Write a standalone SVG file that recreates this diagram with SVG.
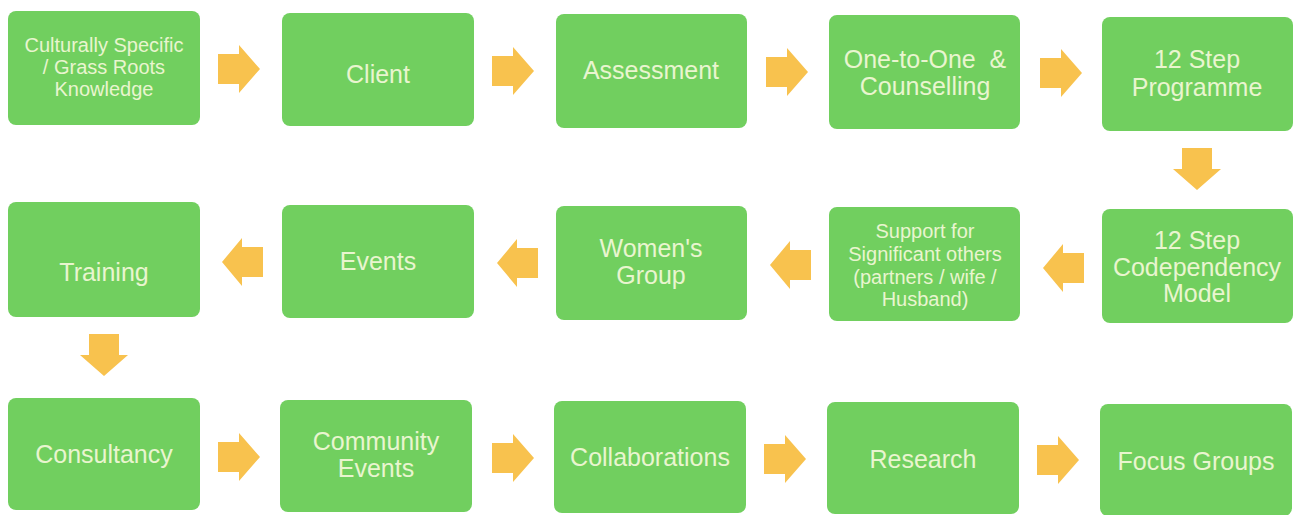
<svg xmlns="http://www.w3.org/2000/svg" width="1297" height="515" viewBox="0 0 1297 515">
<defs>
<style>
.box{fill:#71cf5f;}
.lbl{font-family:"Liberation Sans",Arial,sans-serif;font-size:25px;fill:#e9f5cf;text-anchor:middle;}
.sm{font-size:20px;}
.arr{fill:#f8c24e;}
</style>
<path id="ar" d="M0,-15 H21 V-24 L42,0 L21,24 V15 H0 Z"/>
<path id="al" d="M0,0 L20,-24 V-15 H41 V15 H20 V24 Z"/>
<path id="ad" d="M-15,0 H15 V21 H24 L0,42 L-24,21 H-15 Z"/>
</defs>
<rect width="1297" height="515" fill="#ffffff"/>
<g id="n1"><rect class="box" x="8" y="11" width="192" height="114" rx="8"/><text class="lbl sm" x="104" y="52">Culturally Specific</text><text class="lbl sm" x="104" y="74">/ Grass Roots</text><text class="lbl sm" x="104" y="96">Knowledge</text></g>
<g id="n2"><rect class="box" x="282" y="13" width="192" height="113" rx="8"/><text class="lbl" x="378" y="83">Client</text></g>
<g id="n3"><rect class="box" x="556" y="14" width="191" height="114" rx="8"/><text class="lbl" x="651" y="79">Assessment</text></g>
<g id="n4"><rect class="box" x="829" y="15" width="191" height="114" rx="8"/><text class="lbl" x="925" y="68">One-to-One&#160; &amp;</text><text class="lbl" x="925" y="95">Counselling</text></g>
<g id="n5"><rect class="box" x="1102" y="17" width="191" height="114" rx="8"/><text class="lbl" x="1197" y="68">12 Step</text><text class="lbl" x="1197" y="96">Programme</text></g>
<g id="n6"><rect class="box" x="1102" y="209" width="191" height="114" rx="8"/><text class="lbl" x="1197" y="249">12 Step</text><text class="lbl" x="1197" y="276">Codependency</text><text class="lbl" x="1197" y="302">Model</text></g>
<g id="n7"><rect class="box" x="829" y="207" width="191" height="114" rx="8"/><text class="lbl sm" x="925" y="238">Support for</text><text class="lbl sm" x="925" y="261">Significant others</text><text class="lbl sm" x="925" y="284">(partners / wife /</text><text class="lbl sm" x="925" y="306">Husband)</text></g>
<g id="n8"><rect class="box" x="556" y="206" width="191" height="114" rx="8"/><text class="lbl" x="651" y="257">Women's</text><text class="lbl" x="651" y="284">Group</text></g>
<g id="n9"><rect class="box" x="282" y="205" width="192" height="113" rx="8"/><text class="lbl" x="378" y="270">Events</text></g>
<g id="n10"><rect class="box" x="8" y="202" width="192" height="115" rx="8"/><text class="lbl" x="104" y="281">Training</text></g>
<g id="n11"><rect class="box" x="8" y="398" width="192" height="112" rx="8"/><text class="lbl" x="104" y="463">Consultancy</text></g>
<g id="n12"><rect class="box" x="280" y="400" width="192" height="112" rx="8"/><text class="lbl" x="376" y="450">Community</text><text class="lbl" x="376" y="477">Events</text></g>
<g id="n13"><rect class="box" x="554" y="401" width="192" height="112" rx="8"/><text class="lbl" x="650" y="466">Collaborations</text></g>
<g id="n14"><rect class="box" x="827" y="402" width="192" height="112" rx="8"/><text class="lbl" x="923" y="468">Research</text></g>
<g id="n15"><rect class="box" x="1100" y="404" width="192" height="112" rx="8"/><text class="lbl" x="1196" y="470">Focus Groups</text></g>
<g id="connectors" class="arr">
<use href="#ar" x="218" y="69"/>
<use href="#ar" x="492" y="71"/>
<use href="#ar" x="766" y="72"/>
<use href="#ar" x="1040" y="73"/>
<use href="#ad" x="1197" y="148"/>
<use href="#al" x="1043" y="268"/>
<use href="#al" x="770" y="265"/>
<use href="#al" x="497" y="263"/>
<use href="#al" x="222" y="262"/>
<use href="#ad" x="104" y="334"/>
<use href="#ar" x="218" y="457"/>
<use href="#ar" x="492" y="458"/>
<use href="#ar" x="764" y="459"/>
<use href="#ar" x="1037" y="460"/>
</g>
</svg>
